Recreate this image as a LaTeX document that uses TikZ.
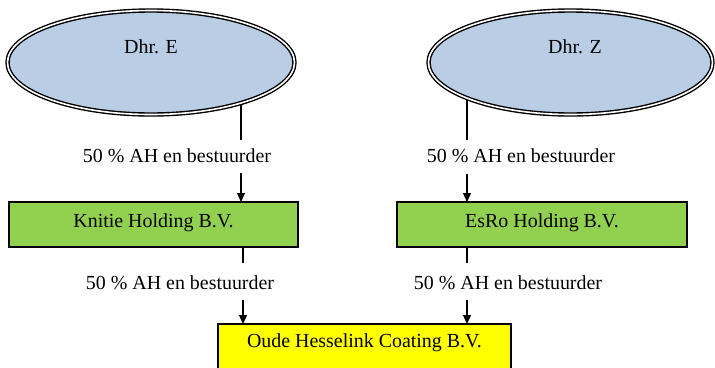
\documentclass[tikz,border=0pt]{standalone}
\usepackage{fontspec}
\setmainfont{Liberation Serif}
\usetikzlibrary{shapes.geometric,arrows.meta}
\pgfdeclarelayer{bg}
\pgfsetlayers{bg,main}
\definecolor{ellblue}{HTML}{B9CDE5}
\definecolor{boxgreen}{HTML}{92D050}
\definecolor{boxyellow}{HTML}{FFFF00}
\tikzset{
  person/.style={ellipse, draw=black, fill=ellblue, line width=1.4bp, double=white, double distance=1.6bp, inner sep=0pt, outer sep=0pt},
  company/.style={rectangle, draw=black, line width=2.2bp, inner sep=0pt, outer sep=0pt},
  txt/.style={inner sep=0pt, font=\fontsize{20}{24}\selectfont},
  conn/.style={draw=black, line width=1.1bp},
  arr/.style={conn, -{Triangle[length=9bp,width=8bp]}}
}
\begin{document}
\begin{tikzpicture}[x=1bp,y=-1bp]
\useasboundingbox (0,0) rectangle (715,367);
% persons
\node[person, minimum width=287bp, minimum height=104bp] (E) at (151,62.5) {};
\node[txt] (Et) at (151,47) {Dhr. E};
\node[person, minimum width=284bp, minimum height=104bp] (Z) at (570.5,62.5) {};
\node[txt] (Zt) at (575,47) {Dhr. Z};
% holdings
\node[company, fill=boxgreen, minimum width=289bp, minimum height=45bp] (K) at (153.5,224.5) {};
\node[txt] (Kt) at (153.5,223) {Knitie Holding B.V.};
\node[company, fill=boxgreen, minimum width=290bp, minimum height=45bp] (R) at (542,224.5) {};
\node[txt] (Rt) at (542,223) {EsRo Holding B.V.};
% operating company
\node[company, fill=boxyellow, minimum width=293bp, minimum height=50bp] (O) at (364.5,349) {};
\node[txt] (Ot) at (364.5,343) {Oude Hesselink Coating B.V.};
% labels
\node[txt] (l1) at (177,156) {50 \% AH en bestuurder};
\node[txt] (l2) at (521,156) {50 \% AH en bestuurder};
\node[txt] (l3) at (180,283) {50 \% AH en bestuurder};
\node[txt] (l4) at (508,283) {50 \% AH en bestuurder};
% connectors
\coordinate (c1) at (241,80);
\coordinate (c2) at (467,80);
\coordinate (c3) at (243,0);
\coordinate (c4) at (467,0);
\coordinate (t1) at (241,140);
\coordinate (t2) at (467,140);
\coordinate (a1) at (241,173);
\coordinate (a2) at (467,174);
\coordinate (t3) at (243,263);
\coordinate (t4) at (467,263);
\coordinate (a3) at (243,300);
\coordinate (a4) at (467,300);
\begin{pgfonlayer}{bg}
\draw[conn] (c1) -- (t1);
\draw[conn] (c2) -- (t2);
\end{pgfonlayer}
\draw[arr] (a1) -- (a1 |- K.north);
\draw[arr] (a2) -- (a2 |- R.north);
\draw[conn] (c3 |- K.south) -- (t3);
\draw[conn] (c4 |- R.south) -- (t4);
\draw[arr] (a3) -- (a3 |- O.north);
\draw[arr] (a4) -- (a4 |- O.north);
\end{tikzpicture}
\end{document}
